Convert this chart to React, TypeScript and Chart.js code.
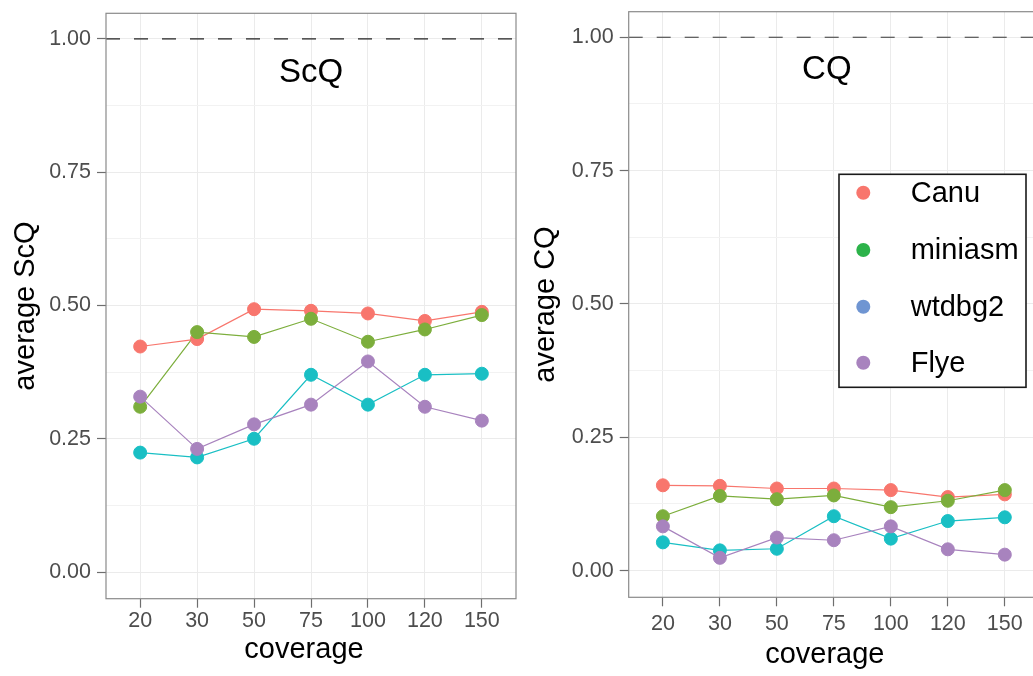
import React, { useEffect, useRef } from "react";
import { Chart, registerables } from "chart.js";

Chart.register(...registerables);

// ---------- data ----------
const coverageLabels = ["20", "30", "50", "75", "100", "120", "150"];
const assemblerNames = ["Canu", "miniasm", "wtdbg2", "Flye"];

const scqCanu = [0.423, 0.437, 0.493, 0.49, 0.485, 0.471, 0.488];
const scqMiniasm = [0.31, 0.45, 0.441, 0.475, 0.432, 0.455, 0.482];
const scqWtdbg2 = [0.224, 0.215, 0.25, 0.37, 0.314, 0.37, 0.372];
const scqFlye = [0.329, 0.231, 0.277, 0.314, 0.395, 0.31, 0.284];

const cqCanu = [0.16, 0.159, 0.154, 0.154, 0.151, 0.138, 0.143];
const cqMiniasm = [0.102, 0.14, 0.134, 0.141, 0.119, 0.131, 0.151];
const cqWtdbg2 = [0.053, 0.038, 0.041, 0.102, 0.06, 0.093, 0.1];
const cqFlye = [0.083, 0.024, 0.062, 0.057, 0.083, 0.04, 0.03];

const yGridValues = [0, 0.125, 0.25, 0.375, 0.5, 0.625, 0.75, 0.875, 1];
const yLabelValues = [0, 0.25, 0.5, 0.75, 1];
const referenceLevel = 1;

// ---------- styles ----------
const FONT = '"Liberation Sans", Arial, Helvetica, sans-serif';
const seriesColors = ["#F8766D", "#7CAE3C", "#19BFC4", "#A883BE"];
const legendColors = ["#F8766D", "#2CB34A", "#6F95D2", "#A883BE"];

Chart.defaults.font.family = FONT;

type Panel = {
  series: number[][];
  title: string;
  yTitle: string;
  axisWidth: number;
  padTop: number;
  padRight: number;
  xAxisHeight: number;
  xTickPad: number;
  xTitleY: number;
  xTitleShift: number;
  titleY: number;
  titleShift: number;
  dashColor: string;
  legend: boolean;
};

const leftPanel: Panel = {
  series: [scqCanu, scqMiniasm, scqWtdbg2, scqFlye],
  title: "ScQ",
  yTitle: "average ScQ",
  axisWidth: 106,
  padTop: 13.3,
  padRight: 4,
  xAxisHeight: 77.3,
  xTickPad: 0,
  xTitleY: 650,
  xTitleShift: -7,
  titleY: 73,
  titleShift: 0,
  dashColor: "#1a1a1a",
  legend: false,
};

const rightPanel: Panel = {
  series: [cqCanu, cqMiniasm, cqWtdbg2, cqFlye],
  title: "CQ",
  yTitle: "average CQ",
  axisWidth: 108.7,
  padTop: 11.7,
  padRight: 4,
  xAxisHeight: 78.7,
  xTickPad: 5,
  xTitleY: 655,
  xTitleShift: -9,
  titleY: 70,
  titleShift: -7,
  dashColor: "#555555",
  legend: true,
};

const decorPlugin = {
  id: "decor",
  beforeDatasetsDraw(chart: any, _args: any, opts: any) {
    const { ctx, chartArea: a, scales } = chart;
    const y = scales.y.getPixelForValue(referenceLevel);
    ctx.save();
    ctx.strokeStyle = opts.dashColor;
    ctx.lineWidth = 1.2;
    ctx.setLineDash([14, 14]);
    ctx.beginPath();
    ctx.moveTo(a.left, y);
    ctx.lineTo(a.right, y);
    ctx.stroke();
    ctx.restore();
  },
  afterDraw(chart: any, _args: any, opts: any) {
    const { ctx, chartArea: a } = chart;
    ctx.save();
    // panel border
    ctx.strokeStyle = "#8a8a8a";
    ctx.lineWidth = 1.2;
    ctx.strokeRect(a.left, a.top, a.right - a.left, a.bottom - a.top);
    // panel title
    ctx.fillStyle = "#000";
    ctx.font = `33px ${FONT}`;
    ctx.textAlign = "center";
    ctx.textBaseline = "middle";
    ctx.fillText(opts.title, (a.left + a.right) / 2 + opts.titleShift, opts.titleY);
    // x axis title
    ctx.font = `29px ${FONT}`;
    ctx.fillText("coverage", (a.left + a.right) / 2 + opts.xTitleShift, opts.xTitleY);
    // legend
    if (opts.legend) {
      const bx = 319, by = 174.3, bw = 187, bh = 213;
      ctx.fillStyle = "#fff";
      ctx.fillRect(bx, by, bw, bh);
      ctx.strokeStyle = "#1a1a1a";
      ctx.lineWidth = 1.6;
      ctx.strokeRect(bx, by, bw, bh);
      const rows = [192.7, 250, 306.7, 362.7];
      assemblerNames.forEach((name, i) => {
        ctx.fillStyle = legendColors[i];
        ctx.beginPath();
        ctx.arc(343.3, rows[i], 7, 0, Math.PI * 2);
        ctx.fill();
        ctx.fillStyle = "#000";
        ctx.font = `29px ${FONT}`;
        ctx.textAlign = "left";
        ctx.textBaseline = "middle";
        ctx.fillText(name, 390.7, rows[i] + 1);
      });
    }
    ctx.restore();
  },
};

function makeConfig(p: Panel): any {
  const datasets: any[] = [];
  p.series.forEach((vals, i) => {
    datasets.push({
      label: assemblerNames[i] + " line",
      data: vals.map((v, k) => ({ x: k, y: v })),
      borderColor: seriesColors[i],
      borderWidth: 1.2,
      pointRadius: 0,
      fill: false,
      order: 23 - i,
    });
  });
  p.series.forEach((vals, i) => {
    datasets.push({
      label: assemblerNames[i],
      data: vals.map((v, k) => ({ x: k, y: v })),
      showLine: false,
      pointRadius: 6.5,
      pointBorderWidth: 1,
      pointBackgroundColor: seriesColors[i],
      pointBorderColor: seriesColors[i],
      order: 4 - i,
    });
  });
  return {
    type: "line",
    data: { datasets },
    plugins: [decorPlugin],
    options: {
      responsive: false,
      animation: false,
      layout: {
        autoPadding: false,
        padding: { top: p.padTop, right: p.padRight, left: 0, bottom: 0 },
      },
      plugins: {
        legend: { display: false },
        tooltip: { enabled: false },
        decor: {
          title: p.title,
          titleY: p.titleY,
          titleShift: p.titleShift,
          xTitleY: p.xTitleY,
          xTitleShift: p.xTitleShift,
          dashColor: p.dashColor,
          legend: p.legend,
        },
      },
      scales: {
        x: {
          type: "linear",
          min: -0.6,
          max: coverageLabels.length - 0.4,
          afterBuildTicks: (s: any) => {
            s.ticks = coverageLabels.map((_, i) => ({ value: i }));
          },
          afterFit: (s: any) => {
            s.height = p.xAxisHeight;
            s.paddingLeft = 0;
            s.paddingRight = 0;
          },
          ticks: {
            autoSkip: false,
            maxRotation: 0,
            padding: p.xTickPad,
            color: "#4d4d4d",
            font: { size: 21.5, family: FONT },
            callback: (v: any) => coverageLabels[Math.round(v)] ?? "",
          },
          grid: {
            color: "#EBEBEB",
            lineWidth: 1,
            tickLength: 9,
            tickColor: "#6e6e6e",
            tickWidth: 1.2,
          },
          border: { display: false },
        },
        y: {
          type: "linear",
          min: -0.05,
          max: 1.048,
          afterBuildTicks: (s: any) => {
            s.ticks = yGridValues.map((v) => ({ value: v }));
          },
          afterFit: (s: any) => {
            s.width = p.axisWidth;
            s.paddingTop = 0;
            s.paddingBottom = 0;
          },
          ticks: {
            autoSkip: false,
            padding: 6,
            color: "#4d4d4d",
            font: { size: 21.5, family: FONT },
            callback: (v: any) => (yLabelValues.includes(v) ? Number(v).toFixed(2) : ""),
          },
          grid: {
            color: (c: any) => (c.tick && yLabelValues.includes(c.tick.value) ? "#EBEBEB" : "#F2F2F2"),
            lineWidth: 1,
            tickLength: 9,
            tickColor: (c: any) =>
              c.tick && yLabelValues.includes(c.tick.value) ? "#6e6e6e" : "rgba(0,0,0,0)",
            tickWidth: 1.2,
          },
          border: { display: false },
          title: {
            display: true,
            text: p.yTitle,
            color: "#000",
            font: { size: 29, family: FONT },
            padding: { top: 8.6, bottom: 0 },
          },
        },
      },
    },
  };
}

export default function App() {
  const leftRef = useRef<HTMLCanvasElement>(null);
  const rightRef = useRef<HTMLCanvasElement>(null);
  useEffect(() => {
    const c1 = new Chart(leftRef.current as HTMLCanvasElement, makeConfig(leftPanel));
    const c2 = new Chart(rightRef.current as HTMLCanvasElement, makeConfig(rightPanel));
    return () => {
      c1.destroy();
      c2.destroy();
    };
  }, []);
  return (
    <div
      style={{
        position: "fixed",
        left: 0,
        top: 0,
        width: 1033,
        height: 676,
        overflow: "hidden",
        background: "#fff",
      }}
    >
      <canvas ref={leftRef} width={520} height={676} style={{ position: "absolute", left: 0, top: 0 }} />
      <canvas ref={rightRef} width={523} height={676} style={{ position: "absolute", left: 520, top: 0 }} />
    </div>
  );
}
